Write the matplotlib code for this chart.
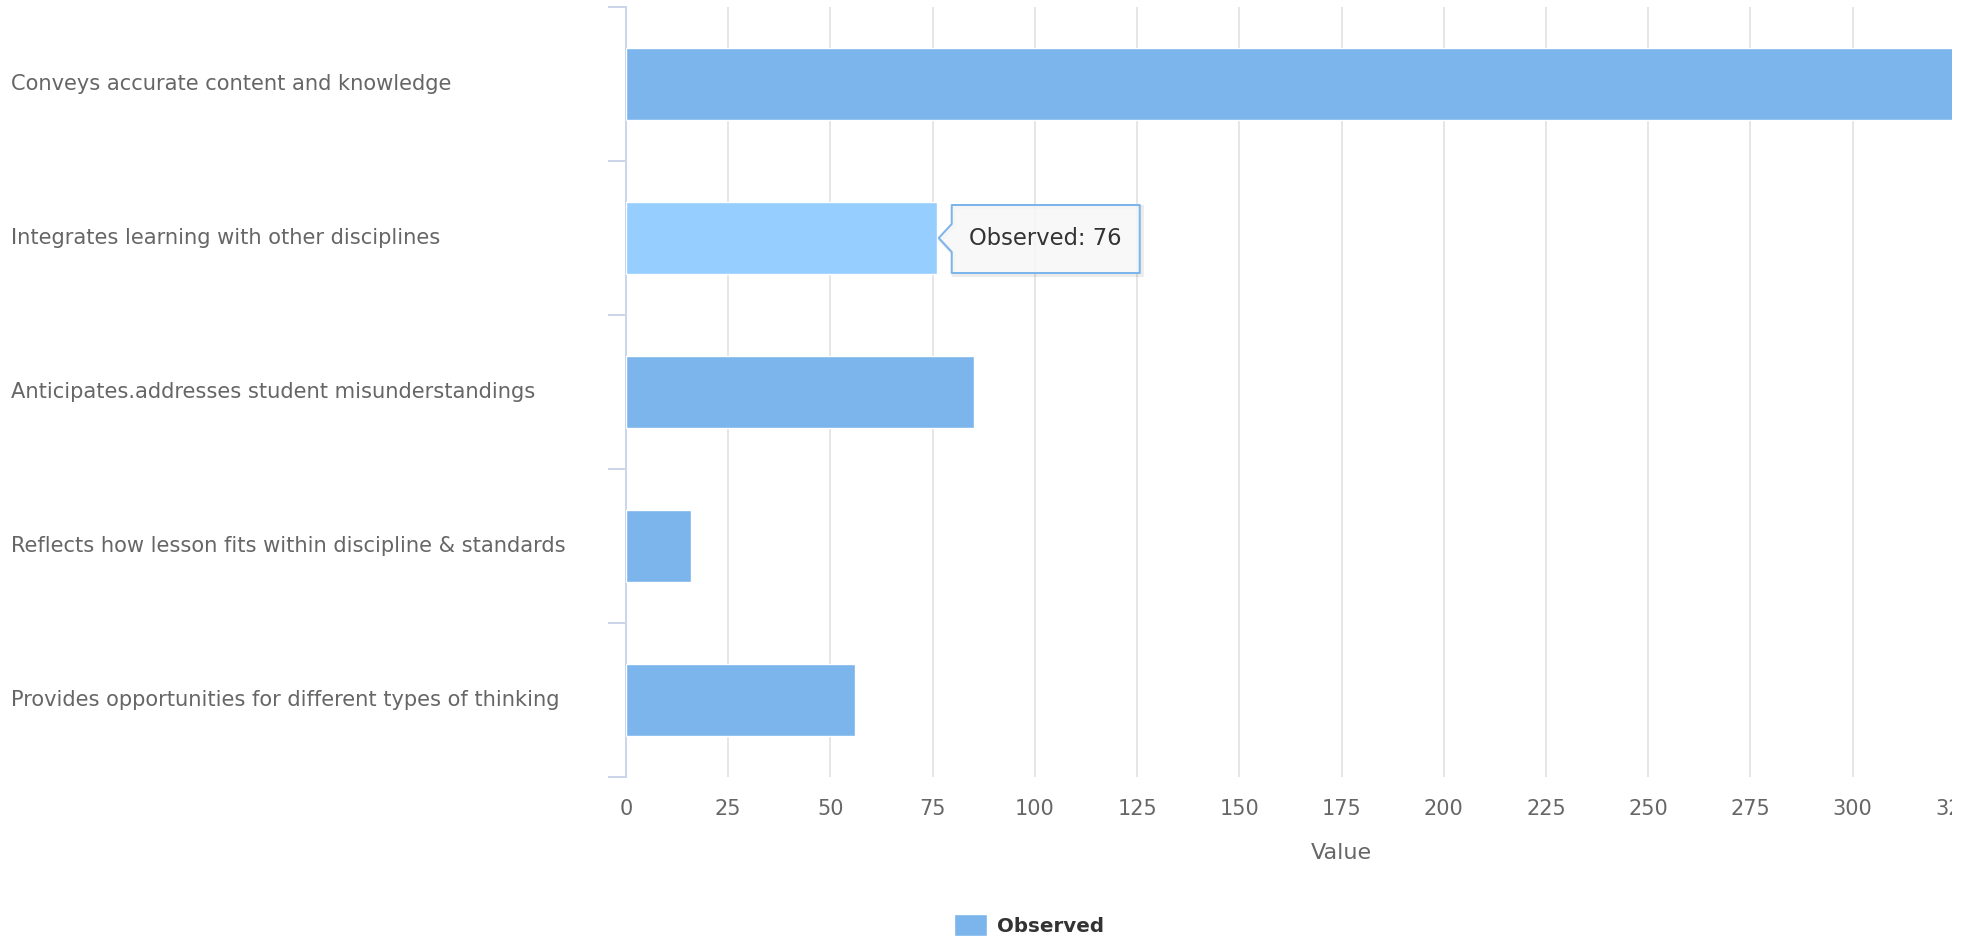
import matplotlib
matplotlib.use('Agg')
from matplotlib import pyplot as plt
from matplotlib.patches import Polygon, Rectangle
from matplotlib.transforms import blended_transform_factory, IdentityTransform
import numpy as np

categories = [
    'Conveys accurate content and knowledge',
    'Integrates learning with other disciplines',
    'Anticipates.addresses student misunderstandings',
    'Reflects how lesson fits within discipline & standards',
    'Provides opportunities for different types of thinking',
]
observed = [330, 76, 85, 16, 56]
x_ticks = list(range(0, 351, 25))
hover_index = 1

BAR = '#7cb5ec'
BAR_HOVER = '#95ceff'
AXIS = '#ccd6eb'
GRID = '#e6e6e6'
LABEL = '#666666'
DARK = '#333333'

plt.rcParams['font.family'] = ['DejaVu Sans']

W, H = 1979, 941
fig = plt.figure(figsize=(W / 100, H / 100), dpi=100)
# plot area runs past the right edge of the canvas
left, right, top, bottom = 626, 2057, 7, 777
ax = fig.add_axes([left / W, 1 - bottom / H, (right - left) / W, (bottom - top) / H])

y = np.arange(len(categories))
colors = [BAR_HOVER if i == hover_index else BAR for i in y]
ax.barh(y, observed, height=0.47, color=colors, edgecolor='white',
        linewidth=1, zorder=3, label='Observed')

ax.set_xlim(0, 350)
ax.set_ylim(len(categories) - 0.5, -0.5)
ax.set_xticks(x_ticks)
ax.set_xticklabels([str(t) for t in x_ticks])
ax.xaxis.grid(True, color=GRID, linewidth=1.44, zorder=0)
ax.set_axisbelow(True)
ax.tick_params(axis='x', length=0, pad=16, labelsize=15, labelcolor=LABEL)

ax.set_yticks(np.arange(len(categories) + 1) - 0.5)
ax.set_yticklabels([])
ax.tick_params(axis='y', direction='out', length=13, width=1.44, color=AXIS)

for s in ['top', 'right', 'bottom']:
    ax.spines[s].set_visible(False)
ax.spines['left'].set_color(AXIS)
ax.spines['left'].set_linewidth(1.44)

ax.set_xlabel('Value', fontsize=16, color=LABEL, labelpad=17)

# category names, left aligned at the chart edge
lab_tr = blended_transform_factory(fig.transFigure, ax.transData)
for i, name in enumerate(categories):
    ax.text(11 / W, i, name, transform=lab_tr, ha='left', va='center',
            fontsize=15.1, color=LABEL, clip_on=False)

fig.legend(loc='center', bbox_to_anchor=(1029 / W, 16 / H), frameon=False,
           prop={'size': 14.3, 'weight': 'bold'}, labelcolor=DARK,
           handlelength=1.7, handleheight=1.3, handletextpad=0.5)

# hover tooltip on the highlighted bar
fig.canvas.draw()
ax_x, ax_y = ax.transData.transform((observed[hover_index], hover_index))
bx0, bx1 = ax_x + 15, ax_x + 203
by0, by1 = ax_y - 35, ax_y + 33
tip = [(bx0, by1), (bx1, by1), (bx1, by0), (bx0, by0),
       (bx0, ax_y - 14), (ax_x + 2, ax_y), (bx0, ax_y + 14)]
shadow = Polygon([(px + 2, py - 2) for px, py in tip], closed=True,
                 transform=IdentityTransform(), facecolor='none',
                 edgecolor='black', alpha=0.08, linewidth=3, zorder=8)
box = Polygon(tip, closed=True, transform=IdentityTransform(),
              facecolor=(0.97, 0.97, 0.97, 0.85), edgecolor=BAR,
              linewidth=1.44, joinstyle='round', zorder=9)
fig.patches.extend([shadow, box])
fig.text((bx0 + bx1) / 2 / W, ax_y / H, f'Observed: {observed[hover_index]}',
         ha='center', va='center', fontsize=16.3, color=DARK, zorder=10)

# canvas is cut on the right
fig.patches.append(Rectangle((1952 / W, 0), 1, 1, transform=fig.transFigure,
                             facecolor='white', edgecolor='none', zorder=11))

fig.savefig('out.png', dpi=100)
